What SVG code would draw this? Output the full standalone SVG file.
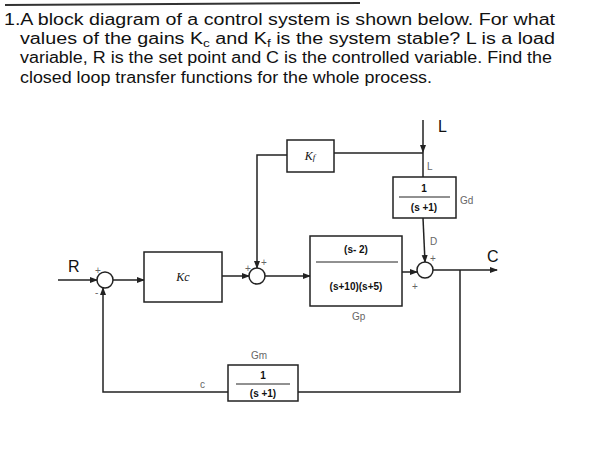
<svg xmlns="http://www.w3.org/2000/svg" width="607" height="454" viewBox="0 0 607 454">
<style>
.t{font-family:"Liberation Sans",Arial,sans-serif;font-size:16px;fill:#111}
.b{fill:#fff;stroke:#222;stroke-width:1.5}
.l{fill:none;stroke:#222;stroke-width:1.5}
.m{font-family:"Liberation Serif",serif;font-style:italic;font-size:12px;fill:#111}
.f{font-family:"Liberation Sans",Arial,sans-serif;font-weight:bold;font-size:10px;fill:#111}
.h{font-family:"Liberation Sans",Arial,sans-serif;font-size:10px;fill:#666}
.s{fill:#fff;stroke:#222;stroke-width:1.5}
</style>
<defs><marker id="a" markerWidth="8" markerHeight="8" refX="7" refY="4" orient="auto" markerUnits="userSpaceOnUse"><path d="M0,1 L8,4 L0,7z" fill="#222"/></marker></defs>
<rect width="607" height="454" fill="#fff"/>
<line x1="5" y1="5" x2="360" y2="3" stroke="#333" stroke-width="2"/>
<g id="title">
<text class="t" x="4" y="25" textLength="551" lengthAdjust="spacingAndGlyphs">1.A block diagram of a control system is shown below. For what</text>
<text class="t" x="20" y="44" textLength="535" lengthAdjust="spacingAndGlyphs">values of the gains K<tspan font-size="11" dy="3">c</tspan><tspan dy="-3"> and K</tspan><tspan font-size="11" dy="3">f</tspan><tspan dy="-3"> is the system stable? L is a load</tspan></text>
<text class="t" x="20" y="63" textLength="532" lengthAdjust="spacingAndGlyphs">variable, R is the set point and C is the controlled variable. Find the</text>
<text class="t" x="20" y="83" textLength="412" lengthAdjust="spacingAndGlyphs">closed loop transfer functions for the whole process.</text>
</g>
<g id="connectors" class="l">
<line x1="58" y1="280" x2="97" y2="280" marker-end="url(#a)"/>
<line x1="113" y1="280" x2="144" y2="280" marker-end="url(#a)"/>
<line x1="222" y1="276" x2="249" y2="276" marker-end="url(#a)"/>
<line x1="265" y1="276" x2="310" y2="276" marker-end="url(#a)"/>
<line x1="402" y1="272" x2="417" y2="272" marker-end="url(#a)"/>
<line x1="433" y1="270" x2="497" y2="270" marker-end="url(#a)"/>
<polyline points="460,270 460,392 298,392"/>
<polyline points="228,392 103,392 103,288" marker-end="url(#a)"/>
<line x1="423" y1="120" x2="423" y2="152" marker-end="url(#a)"/>
<line x1="423" y1="152" x2="423" y2="177"/>
<line x1="423" y1="218" x2="425" y2="262" marker-end="url(#a)"/>
<line x1="423" y1="153" x2="334" y2="153"/>
<polyline points="287,155 257,155 257,268" marker-end="url(#a)"/>
</g>
<g id="sum1"><circle class="s" cx="105" cy="280" r="8"/><text class="h" x="95" y="274">+</text><text class="h" x="95" y="296">-</text></g>
<g id="sum2"><circle class="s" cx="257" cy="276" r="8"/><text class="h" x="245" y="272">+</text><text class="h" x="261" y="266">+</text></g>
<g id="sum3"><circle class="s" cx="425" cy="270" r="8"/><text class="h" x="430" y="262">+</text><text class="h" x="412" y="290">+</text></g>
<g id="Kc"><rect class="b" x="144" y="252" width="78" height="50"/><text class="m" x="183" y="281" text-anchor="middle">Kc</text></g>
<g id="Kf"><rect class="b" x="287" y="140" width="47" height="32"/><text class="m" x="310" y="160" text-anchor="middle">K<tspan font-size="9">f</tspan></text></g>
<g id="Gp"><rect class="b" x="310" y="236" width="92" height="70"/><text class="f" x="356" y="253" text-anchor="middle">(s- 2)</text><line x1="316" y1="262" x2="398" y2="262" stroke="#222"/><text class="f" x="356" y="290" text-anchor="middle">(s+10)(s+5)</text></g>
<g id="Gd"><rect class="b" x="393" y="177" width="63" height="41"/><text class="f" x="424" y="192" text-anchor="middle">1</text><line x1="399" y1="197" x2="450" y2="197" stroke="#222"/><text class="f" x="424" y="211" text-anchor="middle">(s +1)</text></g>
<g id="Gm"><rect class="b" x="228" y="365" width="70" height="36"/><text class="f" x="263" y="379" text-anchor="middle">1</text><line x1="236" y1="384" x2="290" y2="384" stroke="#222"/><text class="f" x="263" y="397" text-anchor="middle">(s +1)</text></g>
<g id="labels">
<text class="t" x="68" y="272">R</text>
<text class="t" x="487" y="262">C</text>
<text class="t" x="438" y="132">L</text>
<text class="h" x="427" y="170">L</text>
<text class="h" x="430" y="245">D</text>
<text class="h" x="200" y="388">c</text>
<text class="h" x="460" y="204">Gd</text>
<text class="h" x="251" y="359">Gm</text>
<text class="h" x="352" y="320">Gp</text>
</g>
</svg>
